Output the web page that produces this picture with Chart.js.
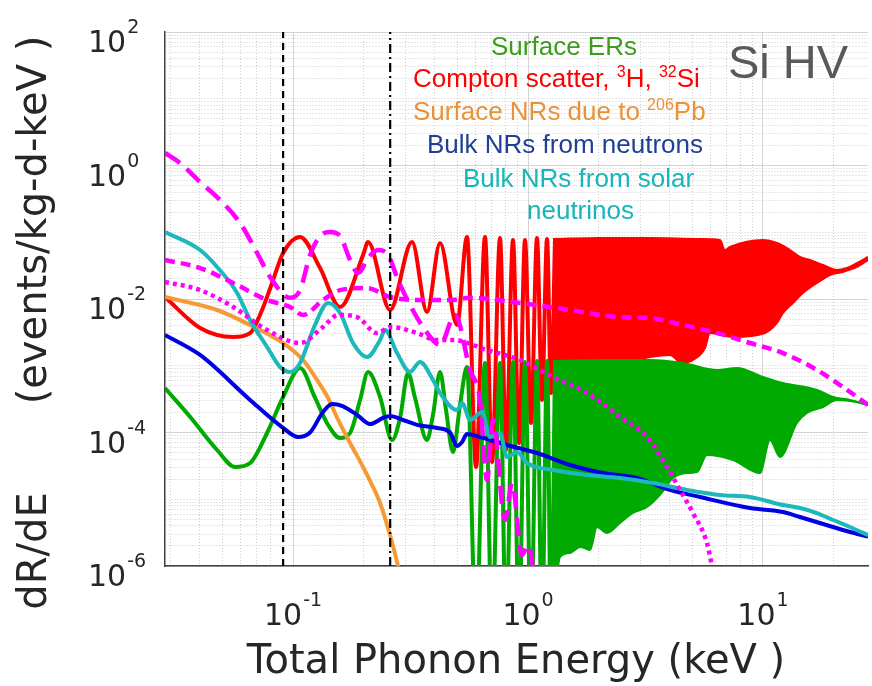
<!DOCTYPE html>
<html>
<head>
<meta charset="utf-8">
<script src="https://cdn.jsdelivr.net/npm/chart.js@4"></script>
<style>
  html, body { margin: 0; padding: 0; background: #fff; }
  #caixa { width: 872px; height: 686px; }
</style>
</head>
<body>
<div id="caixa"><canvas id="grafico" width="872" height="686"></canvas></div>
<script>
// =========================================================
// 1. DADOS (energia em keV, taxa em eventos/kg-d-keV)
// =========================================================
// Surface ERs (verde): parte com oscilações separadas
const energiaVerde = [0.0285, 0.0365, 0.0475, 0.0567, 0.0656, 0.0775, 0.0907, 0.1071, 0.1241, 0.1402, 0.1585, 0.1748, 0.1928, 0.2085, 0.2346, 0.2638, 0.2853, 0.3086, 0.3305, 0.3717, 0.394, 0.4222, 0.4477, 0.4797, 0.5136, 0.5499, 0.6008, 0.6561, 0.7028, 0.760, 0.806, 0.8632, 0.9156, 0.9709, 1.030, 1.092, 1.147, 1.205, 1.253, 1.303];
const taxaVerde = [4.64e-4, 1.71e-4, 5.47e-5, 3.04e-5, 3.49e-5, 9.83e-5, 3.40e-4, 9.25e-4, 3.29e-4, 1.34e-4, 8.27e-5, 9.83e-5, 3.07e-4, 8.06e-4, 3.40e-4, 7.72e-5, 1.65e-4, 7.79e-4, 3.29e-4, 7.72e-5, 1.83e-4, 8.06e-4, 2.17e-4, 5.1e-5, 2.58e-4, 9.58e-4, 1e-7, 1.10e-3, 1e-7, 1.10e-3, 1e-7, 1.14e-3, 1e-7, 1.14e-3, 1e-7, 1.18e-3, 1e-7, 1.18e-3, 1e-7, 1.18e-3];
// Surface ERs: faixa densa (borda de cima e borda de baixo)
const energiaVerdeTopo = [1.277, 2.025, 3.305, 4.567, 6.373, 7.752, 10.0, 12.17, 16.98, 19.86, 23.46, 28.0];
const taxaVerdeTopo = [1.18e-3, 1.22e-3, 1.22e-3, 1.10e-3, 8.64e-4, 9.25e-4, 6.79e-4, 5.51e-4, 4.33e-4, 3.40e-4, 3.07e-4, 2.58e-4];
const energiaVerdeBase = [1.277, 1.303, 1.368, 1.509, 1.665, 1.836, 1.966, 2.169, 2.463, 2.797, 3.21, 3.645, 4.14, 4.75, 5.238, 5.777, 7.452, 9.709, 10.71, 11.81, 13.95, 15.39, 18.0, 20.65, 25.12, 28.0];
const taxaVerdeBase = [1e-7, 3.1e-7, 1.36e-6, 1.57e-6, 1.93e-6, 1.74e-6, 3.84e-6, 3.12e-6, 4.41e-6, 6.22e-6, 7.65e-6, 1.16e-5, 2.08e-5, 2.47e-5, 2.56e-5, 4.60e-5, 3.87e-5, 2.47e-5, 7.72e-5, 4.30e-5, 1.39e-4, 1.96e-4, 2.41e-4, 3.07e-4, 2.86e-4, 2.58e-4];

// Compton scatter, 3H, 32Si (vermelho)
const energiaVermelho = [0.0285, 0.0402, 0.0556, 0.0656, 0.0738, 0.0814, 0.0907, 0.1071, 0.1303, 0.1585, 0.1986, 0.2085, 0.2587, 0.3209, 0.3717, 0.4222, 0.4988, 0.5499, 0.6008, 0.6561, 0.7028, 0.760, 0.806, 0.8632, 0.9156, 0.9709, 1.030, 1.092, 1.147, 1.205, 1.253, 1.303];
const taxaVermelho = [0.0107, 0.00368, 0.00270, 0.00309, 0.00684, 0.0174, 0.0489, 0.0849, 0.0291, 0.00759, 0.0456, 0.0714, 0.00684, 0.0714, 0.00639, 0.0690, 0.00408, 0.0849, 3.04e-5, 0.0849, 3.61e-5, 0.0820, 5.47e-5, 0.0765, 6.96e-5, 0.0765, 1.39e-4, 0.0820, 3.07e-4, 0.0793, 3.91e-4, 0.0793];
const energiaVermelhoTopo = [1.277, 2.025, 3.305, 5.394, 6.561, 6.89, 7.237, 10.0, 11.47, 13.03, 14.37, 15.85, 18.0, 20.65, 22.77, 25.12, 28.0];
const taxaVermelhoTopo = [0.0793, 0.0820, 0.0820, 0.0793, 0.0765, 0.0542, 0.0601, 0.0765, 0.0690, 0.0542, 0.0426, 0.0384, 0.0323, 0.0272, 0.0291, 0.0346, 0.0426];
const energiaVermelhoBase = [1.277, 1.437, 1.665, 2.025, 2.587, 3.305, 4.02, 4.52, 5.036, 5.665, 5.949, 7.452, 10.2, 11.47, 12.17, 13.42, 14.8, 16.98, 19.28, 21.9, 25.12, 28.0];
const taxaVermelhoBase = [3.65e-4, 4.04e-4, 5.15e-4, 8.06e-4, 1.10e-3, 1.35e-3, 1.45e-3, 1.10e-3, 1.22e-3, 1.84e-3, 3.09e-3, 2.70e-3, 3.09e-3, 4.37e-3, 6.17e-3, 8.71e-3, 0.0123, 0.0174, 0.0229, 0.0254, 0.0302, 0.0384];

// Surface NRs due to 206Pb (laranja)
const energiaLaranja = [0.0285, 0.0475, 0.0656, 0.0907, 0.1103, 0.1265, 0.1402, 0.1556, 0.1748, 0.1986, 0.2169, 0.2346, 0.2587, 0.2797, 0.288];
const taxaLaranja = [0.0107, 0.00684, 0.00408, 0.00219, 0.00122, 6.12e-4, 3.40e-4, 1.54e-4, 6.96e-5, 3.04e-5, 1.63e-5, 8.79e-6, 2.91e-6, 1e-6, 6.2e-7];

// Bulk NRs from neutrons (azul)
const energiaAzul = [0.0285, 0.0402, 0.0656, 0.0907, 0.1050, 0.1181, 0.1341, 0.1466, 0.1624, 0.1872, 0.2127, 0.2415, 0.2587, 0.2938, 0.3370, 0.4101, 0.4657, 0.4988, 0.5239, 0.5499, 0.6248, 0.814, 1.092, 1.509, 2.085, 2.909, 4.02, 5.394, 8.803, 12.17, 14.37, 19.86, 23.46, 28.0];
const taxaAzul = [2.89e-3, 1.45e-3, 3.07e-4, 1.17e-4, 8.56e-5, 1.0e-4, 2.03e-4, 2.67e-4, 2.49e-4, 1.83e-4, 1.34e-4, 1.65e-4, 1.77e-4, 1.54e-4, 1.30e-4, 1.17e-4, 1.0e-4, 6.28e-5, 7.2e-5, 9.5e-5, 8.56e-5, 6.50e-5, 4.93e-5, 3.26e-5, 2.47e-5, 2.08e-5, 1.38e-5, 1.08e-5, 7.39e-6, 6.44e-6, 5.42e-6, 3.84e-6, 3.23e-6, 2.75e-6];

// Bulk NRs from solar neutrinos (ciano)
const energiaCiano = [0.0285, 0.0402, 0.0475, 0.0578, 0.0656, 0.0775, 0.0880, 0.0971, 0.1071, 0.1229, 0.1409, 0.1585, 0.1800, 0.2064, 0.2346, 0.2463, 0.2771, 0.3147, 0.3471, 0.3942, 0.4222, 0.4988, 0.5239, 0.5665, 0.6372, 0.6891, 0.760, 0.814, 0.8979, 0.99, 1.277, 1.783, 2.463, 3.403, 4.75, 6.561, 8.803, 12.17, 14.37, 16.98, 19.86, 23.46, 28.0];
const taxaCiano = [0.101, 0.0542, 0.0302, 0.0123, 0.00485, 0.00191, 9.58e-4, 8.06e-4, 1.10e-3, 3.81e-3, 8.71e-3, 6.17e-3, 2.19e-3, 1.35e-3, 2.43e-3, 3.43e-3, 1.55e-3, 8.06e-4, 1.14e-3, 6.12e-4, 3.91e-4, 2.17e-4, 2.77e-4, 1.54e-4, 2.03e-4, 8.56e-5, 9.83e-5, 4.30e-5, 5.10e-5, 3.49e-5, 2.74e-5, 2.31e-5, 2.08e-5, 1.75e-5, 1.38e-5, 1.16e-5, 1.08e-5, 8.2e-6, 7.39e-6, 6.22e-6, 4.89e-6, 3.84e-6, 2.9e-6];

// Curvas magenta (traço longo, tracejada e pontilhada)
const energiaMagTracoLongo = [0.0285, 0.033, 0.0402, 0.0489, 0.0595, 0.0703, 0.0798, 0.0971, 0.1071, 0.1181, 0.1303, 0.1437, 0.1585, 0.1748, 0.1891, 0.2085, 0.23, 0.2536, 0.2797, 0.3147, 0.3645, 0.4222, 0.489, 0.5665, 0.6248, 0.669, 0.7097, 0.7982, 0.855, 0.943, 1.0, 1.071];
const taxaMagTracoLongo = [1.54, 1.09, 0.566, 0.304, 0.1376, 0.0489, 0.0214, 0.0104, 0.0136, 0.0456, 0.0879, 0.101, 0.0879, 0.0384, 0.0245, 0.0411, 0.0542, 0.0456, 0.0193, 0.00813, 0.00343, 0.00205, 0.00576, 8.64e-4, 3.07e-4, 1.94e-5, 1.54e-4, 4.89e-6, 1.75e-5, 1.46e-6, 2.07e-6, 6.2e-7];
const energiaMagTracejada = [0.0285, 0.0402, 0.0556, 0.0775, 0.0971, 0.1103, 0.1341, 0.1585, 0.2064, 0.2587, 0.337, 0.4657, 0.5665, 0.9245, 1.509, 2.463, 3.305, 4.567, 6.373, 8.803, 12.17, 16.98, 21.9, 28.0];
const taxaMagTracejada = [0.0384, 0.0291, 0.0174, 0.00966, 0.00759, 0.00576, 0.00966, 0.0136, 0.0146, 0.0107, 0.00966, 0.00966, 0.0104, 0.00871, 0.00684, 0.00537, 0.00519, 0.00408, 0.00309, 0.00219, 0.00155, 8.64e-4, 4.8e-4, 2.6e-4];
const energiaMagPontilhada = [0.0285, 0.0402, 0.0556, 0.0775, 0.1071, 0.1341, 0.1556, 0.1872, 0.2278, 0.2587, 0.337, 0.41, 0.4797, 0.669, 0.9245, 1.277, 1.783, 2.463, 3.21, 3.904, 4.434, 5.036, 5.777, 6.067, 6.24];
const taxaMagPontilhada = [0.018, 0.0136, 0.00759, 0.00343, 0.00219, 0.00381, 0.00576, 0.00537, 0.00309, 0.00381, 0.00309, 0.00243, 0.00243, 0.00172, 0.00122, 6.79e-4, 3.91e-4, 1.71e-4, 8.56e-5, 3.04e-5, 1.38e-5, 6.22e-6, 2.21e-6, 1e-6, 6.2e-7];

// Limiares (linhas pretas verticais) em keV
const limiarTracejado = 0.0907;
const limiarTracoPonto = 0.259;

// Eixos: limites e expoentes que recebem rótulo
const limitesX = [0.0285, 28];
const limitesY = [1e-6, 1e2];
const expoentesX = [-1, 0, 1];
const expoentesY = [-6, -4, -2, 0, 2];


// =========================================================
// 2. FUNÇÕES AUXILIARES
// =========================================================
function pontos(energias, taxas) {
    return energias.map((e, i) => ({ x: e, y: taxas[i] }));
}

// Uma série de linha sem marcadores, cortada na área do gráfico
function serie(energias, taxas, cor, largura, ordem, extra) {
    return Object.assign({
        data: pontos(energias, taxas),
        borderColor: cor,
        borderWidth: largura,
        pointRadius: 0,
        cubicInterpolationMode: 'monotone',
        fill: false,
        order: ordem,
        clip: 0
    }, extra || {});
}

function ehPotencia(v) {
    const l = Math.log10(v);
    return Math.abs(l - Math.round(l)) < 1e-6;
}

// Grade estilo MATLAB: 1..9 x 10^n em cada década
function ticksGrade(escala) {
    const lista = [];
    const e0 = Math.floor(Math.log10(escala.min));
    const e1 = Math.ceil(Math.log10(escala.max));
    for (let e = e0; e <= e1; e++) {
        for (let m = 1; m <= 9; m++) {
            const v = m * Math.pow(10, e);
            if (v >= escala.min * 0.999 && v <= escala.max * 1.001) lista.push({ value: v });
        }
    }
    escala.ticks = lista;
}

// Escreve "10" com o expoente em sobrescrito
function potencia(ctx, expoente, x, y, alinhamento) {
    ctx.font = '30px "DejaVu Sans"';
    const base = ctx.measureText('10').width;
    ctx.font = '19px "DejaVu Sans"';
    const sup = ctx.measureText(String(expoente)).width;
    let inicio = x;
    if (alinhamento === 'centro') inicio = x - (base + sup + 1) / 2;
    ctx.textAlign = 'left';
    ctx.font = '30px "DejaVu Sans"';
    ctx.fillText('10', inicio, y);
    ctx.font = '19px "DejaVu Sans"';
    ctx.fillText(String(expoente), inicio + base + 1, y - 19);
}

// Texto com pedaços em sobrescrito: [texto, sobrescrito?]
function textoMisto(ctx, pedacos, x, y, tamanho, cor) {
    ctx.fillStyle = cor;
    ctx.textAlign = 'left';
    let cx = x;
    pedacos.forEach(([t, sup]) => {
        ctx.font = (sup ? Math.round(tamanho * 0.62) : tamanho) + 'px "Liberation Sans", Arial';
        ctx.fillText(t, cx, sup ? y - tamanho * 0.4 : y);
        cx += ctx.measureText(t).width;
    });
}


// =========================================================
// 3. PLUGIN DE TEXTOS (rótulos dos eixos e anotações)
// =========================================================
const pluginTextos = {
    id: 'textos',
    afterDraw(chart) {
        const ctx = chart.ctx;
        const sx = chart.scales.x;
        const sy = chart.scales.y;
        ctx.save();
        ctx.textBaseline = 'alphabetic';
        ctx.fillStyle = '#262626';

        // rótulos dos ticks
        expoentesY.forEach(e => {
            const py = sy.getPixelForValue(Math.pow(10, e));
            potencia(ctx, e, 88, py + 20, 'esquerda');
        });
        expoentesX.forEach(e => {
            const px = sx.getPixelForValue(Math.pow(10, e));
            potencia(ctx, e, px, 625, 'centro');
        });

        // títulos dos eixos
        ctx.font = '40px "DejaVu Sans"';
        ctx.textAlign = 'center';
        ctx.fillText('Total Phonon Energy (keV )', 516, 673);
        ctx.save();
        ctx.translate(36, 0);
        ctx.rotate(-Math.PI / 2);
        ctx.textBaseline = 'middle';
        ctx.fillText('dR/dE', -551, 0);
        ctx.fillText('(events/kg-d-keV )', -220, 0);
        ctx.restore();

        // anotações coloridas
        ctx.textBaseline = 'alphabetic';
        textoMisto(ctx, [['Surface ERs']], 491, 55, 26, '#3c9c1e');
        textoMisto(ctx, [['Compton scatter, '], ['3', true], ['H, '], ['32', true], ['Si']], 413, 87, 26, '#ff0000');
        textoMisto(ctx, [['Surface NRs due to '], ['206', true], ['Pb']], 413, 120, 26, '#e8923a');
        textoMisto(ctx, [['Bulk NRs from neutrons']], 427, 153, 26, '#1f3f95');
        textoMisto(ctx, [['Bulk NRs from solar']], 463, 187, 26, '#17b6b8');
        textoMisto(ctx, [['neutrinos']], 527, 219, 26, '#17b6b8');
        textoMisto(ctx, [['Si HV']], 728, 78, 47, '#595959');
        ctx.restore();
    }
};


// =========================================================
// 4. MONTAGEM DO GRÁFICO
// =========================================================
const vermelho = '#ff0000';
const verde = '#00aa00';
const magenta = '#ff00ff';

const datasets = [
    // linhas pretas dos limiares (por cima de tudo)
    serie([limiarTracejado, limiarTracejado], limitesY, '#000000', 2.2, 1, { borderDash: [7, 5], cubicInterpolationMode: 'default' }),
    serie([limiarTracoPonto, limiarTracoPonto], limitesY, '#000000', 2.2, 1, { borderDash: [9, 4, 2, 4], cubicInterpolationMode: 'default' }),
    // magenta
    serie(energiaMagPontilhada, taxaMagPontilhada, magenta, 4.5, 2, { borderDash: [4, 4] }),
    serie(energiaMagTracejada, taxaMagTracejada, magenta, 4.5, 3, { borderDash: [10, 6] }),
    serie(energiaMagTracoLongo, taxaMagTracoLongo, magenta, 4.5, 3, { borderDash: [18, 9] }),
    // ciano, azul, laranja
    serie(energiaCiano, taxaCiano, '#1cb8bc', 4, 4),
    serie(energiaAzul, taxaAzul, '#0000e6', 4, 5),
    serie(energiaLaranja, taxaLaranja, '#f59a36', 4, 6),
    // verde: oscilações + faixa densa
    serie(energiaVerde, taxaVerde, verde, 4, 7),
    serie(energiaVerdeTopo, taxaVerdeTopo, verde, 2, 7),
    serie(energiaVerdeBase, taxaVerdeBase, verde, 2, 7, { fill: '-1', backgroundColor: verde }),
    // vermelho: oscilações + faixa densa
    serie(energiaVermelho, taxaVermelho, vermelho, 4, 8),
    serie(energiaVermelhoTopo, taxaVermelhoTopo, vermelho, 2, 8),
    serie(energiaVermelhoBase, taxaVermelhoBase, vermelho, 2, 8, { fill: '-1', backgroundColor: vermelho })
];

function corGrade(principal) {
    return principal ? '#d4d4d4' : '#cfcfcf';
}

const ctxGrafico = document.getElementById('grafico').getContext('2d');
const grafico = new Chart(ctxGrafico, {
    type: 'line',
    data: { datasets: datasets },
    plugins: [pluginTextos],
    options: {
        responsive: false,
        animation: false,
        devicePixelRatio: 1,
        events: [],
        layout: { padding: { top: 32, right: 4, left: 0, bottom: 0 } },
        plugins: { legend: { display: false }, tooltip: { enabled: false } },
        scales: {
            x: {
                type: 'logarithmic',
                min: limitesX[0],
                max: limitesX[1],
                afterBuildTicks: ticksGrade,
                afterFit: (s) => { s.height = 120; },
                ticks: { display: false },
                grid: {
                    drawTicks: false,
                    lineWidth: 1,
                    color: (c) => corGrade(c.tick && ehPotencia(c.tick.value))
                },
                border: {
                    color: '#404040',
                    width: 1.5,
                    dash: (c) => (c.tick && !ehPotencia(c.tick.value)) ? [1, 2] : []
                }
            },
            y: {
                type: 'logarithmic',
                min: limitesY[0],
                max: limitesY[1],
                afterBuildTicks: ticksGrade,
                afterFit: (s) => { s.width = 165; },
                ticks: { display: false },
                grid: {
                    drawTicks: false,
                    lineWidth: 1,
                    color: (c) => {
                        const p = c.tick && ehPotencia(c.tick.value) && Math.round(Math.log10(c.tick.value)) % 2 === 0;
                        return corGrade(p);
                    }
                },
                border: {
                    color: '#404040',
                    width: 1.5,
                    dash: (c) => {
                        if (!c.tick) return [];
                        const p = ehPotencia(c.tick.value) && Math.round(Math.log10(c.tick.value)) % 2 === 0;
                        return p ? [] : [1, 2];
                    }
                }
            }
        }
    }
});
</script>
</body>
</html>
